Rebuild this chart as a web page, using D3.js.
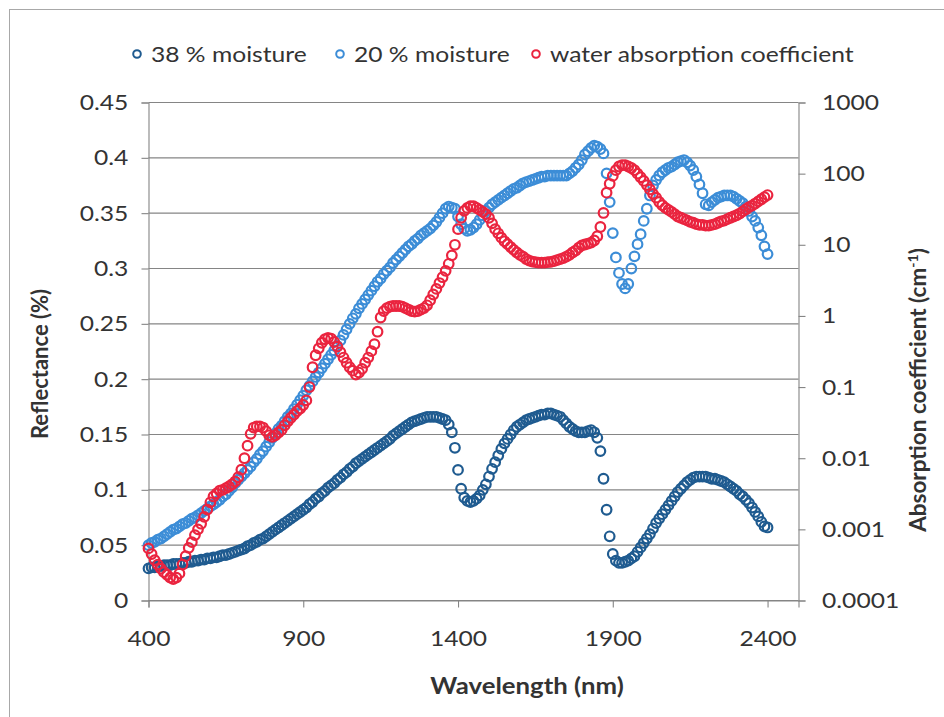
<!DOCTYPE html>
<html>
<head>
<meta charset="utf-8">
<script src="https://cdn.jsdelivr.net/npm/d3@7"></script>
<style>
  body { margin: 0; background: #ffffff; }
  svg text { font-family: Lato, "Open Sans", sans-serif; fill: #333333; }
</style>
</head>
<body>
<svg id="chart" width="944" height="717"></svg>
<script>
// Sampling grid of the spectra (nm)
const wavelengths = d3.range(400, 2401, 10);

// Reflectance of the sample at 38 % moisture (fraction)
const moisture38 = [
  0.029,0.030,0.030,0.031,0.031,0.032,0.032,0.032,0.033,0.033,
  0.033,0.034,0.034,0.035,0.035,0.036,0.036,0.037,0.037,0.038,
  0.038,0.039,0.039,0.040,0.041,0.041,0.042,0.043,0.044,0.045,
  0.046,0.047,0.049,0.050,0.052,0.053,0.055,0.056,0.058,0.060,
  0.062,0.064,0.066,0.068,0.070,0.072,0.074,0.076,0.078,0.080,
  0.082,0.084,0.087,0.089,0.092,0.094,0.097,0.099,0.102,0.104,
  0.106,0.109,0.111,0.114,0.116,0.119,0.121,0.124,0.126,0.128,
  0.130,0.132,0.134,0.136,0.138,0.140,0.142,0.144,0.146,0.149,
  0.151,0.153,0.155,0.157,0.159,0.161,0.162,0.163,0.164,0.165,
  0.166,0.166,0.166,0.166,0.165,0.164,0.163,0.159,0.152,0.138,
  0.118,0.101,0.093,0.090,0.089,0.090,0.092,0.095,0.100,0.105,
  0.112,0.119,0.125,0.131,0.137,0.142,0.146,0.150,0.154,0.157,
  0.159,0.161,0.163,0.164,0.165,0.166,0.167,0.168,0.168,0.169,
  0.169,0.168,0.167,0.166,0.163,0.160,0.157,0.155,0.153,0.152,
  0.152,0.152,0.153,0.154,0.152,0.147,0.135,0.110,0.082,0.058,
  0.042,0.036,0.034,0.034,0.035,0.036,0.038,0.040,0.044,0.048,
  0.052,0.056,0.060,0.065,0.070,0.074,0.078,0.082,0.086,0.090,
  0.094,0.098,0.101,0.104,0.107,0.109,0.111,0.112,0.112,0.112,
  0.112,0.111,0.110,0.110,0.109,0.108,0.107,0.105,0.103,0.101,
  0.099,0.096,0.094,0.091,0.088,0.084,0.080,0.076,0.071,0.067,
  0.066
];

// Reflectance of the sample at 20 % moisture (fraction)
const moisture20 = [
  0.050,0.052,0.053,0.055,0.056,0.058,0.060,0.062,0.064,0.065,
  0.067,0.069,0.070,0.072,0.074,0.075,0.077,0.079,0.081,0.083,
  0.085,0.087,0.089,0.091,0.094,0.096,0.099,0.102,0.106,0.109,
  0.112,0.115,0.118,0.121,0.125,0.128,0.132,0.135,0.139,0.143,
  0.147,0.151,0.155,0.158,0.162,0.166,0.169,0.173,0.177,0.181,
  0.185,0.190,0.194,0.198,0.202,0.206,0.210,0.214,0.218,0.222,
  0.226,0.230,0.235,0.240,0.245,0.250,0.255,0.259,0.264,0.268,
  0.272,0.276,0.280,0.284,0.288,0.291,0.295,0.298,0.301,0.305,
  0.308,0.311,0.314,0.317,0.320,0.322,0.325,0.327,0.330,0.332,
  0.334,0.336,0.339,0.342,0.346,0.350,0.354,0.356,0.355,0.354,
  0.347,0.340,0.336,0.334,0.335,0.337,0.340,0.344,0.348,0.352,
  0.355,0.358,0.360,0.362,0.364,0.366,0.368,0.370,0.372,0.373,
  0.375,0.377,0.378,0.379,0.380,0.381,0.382,0.383,0.383,0.384,
  0.384,0.384,0.384,0.384,0.384,0.384,0.386,0.388,0.391,0.394,
  0.398,0.403,0.406,0.409,0.411,0.410,0.408,0.404,0.386,0.360,
  0.332,0.310,0.296,0.286,0.282,0.286,0.300,0.311,0.322,0.331,
  0.343,0.354,0.366,0.375,0.380,0.384,0.387,0.389,0.391,0.392,
  0.394,0.396,0.397,0.398,0.396,0.393,0.389,0.383,0.376,0.368,
  0.358,0.357,0.360,0.362,0.364,0.365,0.366,0.366,0.366,0.365,
  0.363,0.361,0.359,0.356,0.352,0.347,0.343,0.337,0.330,0.320,
  0.313
];

// Absorption coefficient of liquid water (cm^-1)
const waterAbsorption = [
  0.00054,0.00045,0.00037,0.00032,0.00028,0.00025,0.00023,0.00021,0.00020,0.00021,
  0.00024,0.00032,0.00042,0.00055,0.00066,0.00083,0.0010,0.0012,0.0015,0.0019,
  0.0024,0.0029,0.0032,0.0035,0.0036,0.0038,0.0040,0.0043,0.0047,0.0054,
  0.0069,0.010,0.015,0.022,0.027,0.028,0.028,0.027,0.024,0.021,
  0.020,0.021,0.023,0.025,0.029,0.033,0.037,0.041,0.046,0.050,
  0.056,0.065,0.10,0.19,0.28,0.35,0.42,0.47,0.49,0.48,
  0.43,0.37,0.31,0.26,0.22,0.19,0.17,0.15,0.16,0.18,
  0.22,0.26,0.32,0.40,0.60,0.95,1.17,1.29,1.35,1.38,
  1.38,1.38,1.35,1.29,1.23,1.17,1.15,1.17,1.23,1.29,
  1.41,1.66,2.0,2.4,2.9,3.5,4.3,5.4,7.1,10,
  16.6,24,30,33,35,35,33,31,29,27,
  24,20,16.6,14.5,12.6,11.2,10.2,9.3,8.5,7.8,
  7.2,6.8,6.3,6.0,5.8,5.7,5.6,5.6,5.6,5.7,
  5.75,5.9,6.1,6.3,6.5,6.8,7.2,7.8,8.3,9.1,
  9.8,10.1,10.4,10.7,11.5,13.2,17.8,28,54,72,
  93,112,126,132,132,126,120,112,100,89,
  79,69,60,52,46,40,36,33,31,29,
  27,25,24,23,22,21,20.4,19.5,19.1,19.1,
  18.6,18.6,19.1,19.5,20.4,21.4,21.9,22.9,24,25,
  26,27.5,29.5,31.6,33.9,35.5,38,40.7,43.7,46.8,
  50
];

// Axis ticks and labels
const wavelengthTicks = [400, 900, 1400, 1900, 2400];
const reflectanceTicks = [0, 0.05, 0.1, 0.15, 0.2, 0.25, 0.3, 0.35, 0.4, 0.45];
const reflectanceLabels = ["0", "0.05", "0.1", "0.15", "0.2", "0.25", "0.3", "0.35", "0.4", "0.45"];
const absorptionTicks = [0.0001, 0.001, 0.01, 0.1, 1, 10, 100, 1000];
const absorptionLabels = ["0.0001", "0.001", "0.01", "0.1", "1", "10", "100", "1000"];

// Series names and colours
const seriesNames = ["38 % moisture", "20 % moisture", "water absorption coefficient"];
const seriesColors = ["#1f5b90", "#3c8dd7", "#ea243f"];

const svg = d3.select("#chart");
const gridColor = "#858585";
const textFont = "Lato, 'Open Sans', sans-serif";
const wide = "scale(1.12,1)";   // horizontal text runs slightly wide

// Chart frame
svg.append("rect")
  .attr("x", 9.5).attr("y", 9.5)
  .attr("width", 960).attr("height", 720)
  .attr("fill", "none").attr("stroke", "#a8a8a8").attr("stroke-width", 1);

const plot = { left: 148.5, right: 798.5, top: 102.5, bottom: 600.5 };

const x = d3.scaleLinear().domain([400, 2500]).range([plot.left, plot.right]);
const yL = d3.scaleLinear().domain([0, 0.45]).range([plot.bottom, plot.top]);
const yR = d3.scaleLog().domain([0.0001, 1000]).range([plot.bottom, plot.top]);

// Horizontal gridlines
svg.append("g")
  .selectAll("line")
  .data(reflectanceTicks)
  .join("line")
  .attr("x1", plot.left).attr("x2", plot.right)
  .attr("y1", d => yL(d)).attr("y2", d => yL(d))
  .attr("stroke", gridColor).attr("stroke-width", 1.1);

function styleAxis(g) {
  g.select(".domain").attr("stroke", gridColor).attr("stroke-width", 1.1);
  g.selectAll(".tick line").attr("stroke", gridColor).attr("stroke-width", 1.1);
  g.selectAll(".tick text").attr("fill", "#333333").style("font-size", "22px")
    .style("font-family", textFont).attr("transform", wide);
}

// Left axis
const leftAxis = svg.append("g")
  .attr("transform", `translate(${plot.left},0)`)
  .call(d3.axisLeft(yL).tickValues(reflectanceTicks)
    .tickFormat((d, i) => reflectanceLabels[i]).tickSizeOuter(0).tickSize(7).tickPadding(11));
styleAxis(leftAxis);

// Right axis (logarithmic)
const rightAxis = svg.append("g")
  .attr("transform", `translate(${plot.right},0)`)
  .call(d3.axisRight(yR).tickValues(absorptionTicks)
    .tickFormat((d, i) => absorptionLabels[i]).tickSizeOuter(0).tickSize(7).tickPadding(14));
styleAxis(rightAxis);

// Bottom axis
const bottomAxis = svg.append("g")
  .attr("transform", `translate(0,${plot.bottom})`)
  .call(d3.axisBottom(x).tickValues(wavelengthTicks).tickFormat(d3.format("d"))
    .tickSizeOuter(0).tickSize(7).tickPadding(23));
styleAxis(bottomAxis);

// Axis titles
svg.append("text")
  .attr("transform", `translate(527,694) ${wide}`)
  .attr("text-anchor", "middle")
  .style("font-size", "23px").style("font-weight", "bold")
  .text("Wavelength (nm)");

svg.append("text")
  .attr("transform", "translate(48,364) rotate(-90)")
  .attr("text-anchor", "middle")
  .style("font-size", "22px").style("font-weight", "bold")
  .text("Reflectance (%)");

const rTitle = svg.append("text")
  .attr("transform", "translate(926,390) rotate(-90)")
  .attr("text-anchor", "middle")
  .style("font-size", "22.5px").style("font-weight", "bold");
rTitle.append("tspan").text("Absorption coefficient (cm");
rTitle.append("tspan").attr("dy", -8).style("font-size", "14px").text("-1");
rTitle.append("tspan").attr("dy", 8).text(")");

// Markers: open circles, one group per series
const seriesData = [
  { values: moisture38, scale: yL, color: seriesColors[0] },
  { values: moisture20, scale: yL, color: seriesColors[1] },
  { values: waterAbsorption, scale: yR, color: seriesColors[2] }
];

seriesData.forEach(s => {
  svg.append("g")
    .selectAll("circle")
    .data(wavelengths.map((w, i) => [w, s.values[i]]))
    .join("circle")
    .attr("cx", d => x(d[0]))
    .attr("cy", d => s.scale(d[1]))
    .attr("r", 4.8)
    .attr("fill", "none")
    .attr("stroke", s.color)
    .attr("stroke-width", 2.2);
});

// Legend
const legendX = [137, 340, 536];
const legend = svg.append("g");
seriesNames.forEach((name, i) => {
  legend.append("circle")
    .attr("cx", legendX[i]).attr("cy", 54).attr("r", 3.8)
    .attr("fill", "none").attr("stroke", seriesColors[i]).attr("stroke-width", 2);
  legend.append("text")
    .attr("transform", `translate(${legendX[i] + 14},62) ${wide}`)
    .style("font-size", "22px")
    .text(name);
});
</script>
</body>
</html>
